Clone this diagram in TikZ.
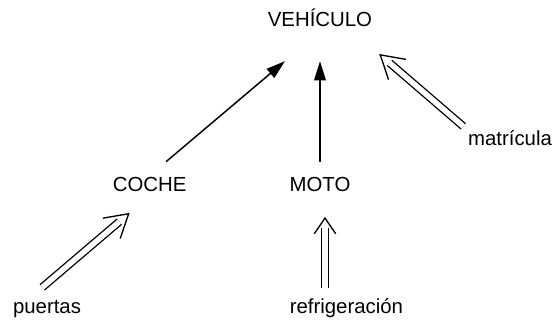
\documentclass[tikz,border=0pt]{standalone}
\usepackage{fontspec}
\setmainfont{Liberation Sans}
\usetikzlibrary{arrows.meta,calc,decorations.markings}
\begin{document}
\begin{tikzpicture}[
  lbl/.style={inner sep=0pt,anchor=base,text height=11pt,text depth=3pt,font=\fontsize{14.5}{17}\selectfont},
  isa/.style={line width=1.05pt,-{Triangle[length=13.5pt,width=8.3pt]}},
  has/.style={double,line width=.95pt,double distance=3.9pt,shorten >=8pt,
    decoration={markings,mark=at position 1 with {\arrow[line width=.95pt]{Straight Barb[#1]}}},
    postaction={decorate}},
  has/.default={length=11.2pt,width=15.3pt}]
\useasboundingbox (0,0) rectangle (13.875,8.125);
\node [lbl] (vehiculo) at (8,7.45) {VEHÍCULO};
\node [lbl] (coche) at (3.74,3.34) {COCHE};
\node [lbl] (moto) at (8,3.34) {MOTO};
\node [lbl] (matricula) at (12.75,4.475) {matrícula};
\node [lbl] (puertas) at (1.175,.275) {puertas};
\node [lbl] (refrigeracion) at (8.66,.275) {refrigeración};
\coordinate (motofoot) at ([xshift=.125cm]moto.south);
\draw [isa,shorten <=.54cm,shorten >=1.15cm] (coche.north) -- (vehiculo.south);
\draw [isa,shorten <=.35cm,shorten >=.745cm] (moto.north) -- (vehiculo.south);
\draw [has={length=16pt,width=19pt},shorten >=9.8pt] ($(matricula.north west)!.15cm!(vehiculo.-17)$) -- ($(vehiculo.-17)!.86cm!(matricula.north west)$);
\draw [has={length=16pt,width=19pt},shorten >=9.8pt] ($(puertas.150)!.42cm!(coche.south)$) -- ($(coche.south)!.65cm!(puertas.150)$);
\draw [has] ($(refrigeracion.north -| motofoot)!.25cm!(motofoot)$) -- ($(motofoot)!.525cm!(refrigeracion.north -| motofoot)$);
\end{tikzpicture}
\end{document}
